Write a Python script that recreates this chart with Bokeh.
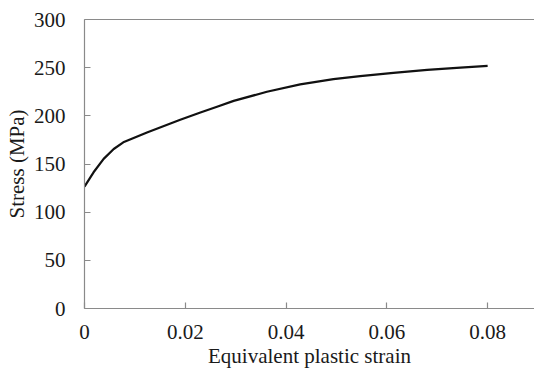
from bokeh.plotting import figure
from bokeh.models import LinearAxis, FixedTicker, Range1d
from bokeh.embed import file_html
from bokeh.resources import INLINE

strain = [0, 0.0018, 0.0038, 0.0058, 0.0077, 0.0124, 0.019, 0.023, 0.0263, 0.0296,
          0.0362, 0.0428, 0.0494, 0.0547, 0.0613, 0.068, 0.0746, 0.08]
stress = [126.6, 141.4, 155.3, 165.6, 172.5, 182.8, 196.0, 203.5, 209.5, 215.5,
          225.0, 232.6, 238.1, 241.3, 244.6, 247.7, 250.1, 251.9]

x_ticks = [0, 0.02, 0.04, 0.06, 0.08]
x_labels = {0: "0", 0.02: "0.02", 0.04: "0.04", 0.06: "0.06", 0.08: "0.08"}
y_ticks = [0, 50, 100, 150, 200, 250, 300]

FONT = "'Liberation Serif', 'Times New Roman', serif"
AXIS_COLOR = "#8a8a8a"
TEXT_COLOR = "#1a1a1a"

p = figure(width=534, height=373, output_backend="svg", toolbar_location=None,
           x_range=Range1d(0, 0.0893), y_range=Range1d(0, 300),
           min_border_left=84, min_border_right=0, min_border_top=19,
           min_border_bottom=65)
p.outline_line_color = None
p.grid.grid_line_color = None
p.background_fill_color = "white"
p.border_fill_color = "white"

p.line(strain, stress, line_color="#111111", line_width=2.2)

for ax in (p.xaxis[0], p.yaxis[0]):
    ax.axis_line_color = AXIS_COLOR
    ax.axis_line_width = 1.2
    ax.major_tick_line_color = AXIS_COLOR
    ax.major_tick_line_width = 1.2
    ax.major_tick_in = 6
    ax.major_tick_out = 0
    ax.minor_tick_line_color = None
    ax.major_label_text_font = FONT
    ax.major_label_text_font_size = "21px"
    ax.major_label_text_color = TEXT_COLOR
    ax.axis_label_text_font = FONT
    ax.axis_label_text_font_size = "21px"
    ax.axis_label_text_font_style = "normal"
    ax.axis_label_text_color = TEXT_COLOR

p.xaxis[0].ticker = FixedTicker(ticks=x_ticks)
p.xaxis[0].major_label_overrides = x_labels
p.xaxis[0].major_label_standoff = 16
p.xaxis[0].axis_label = "Equivalent plastic strain"
p.xaxis[0].axis_label_standoff = 2

p.yaxis[0].ticker = FixedTicker(ticks=y_ticks)
p.yaxis[0].major_label_standoff = 19
p.yaxis[0].axis_label = "Stress (MPa)"
p.yaxis[0].axis_label_standoff = 2

top = LinearAxis(ticker=FixedTicker(ticks=[]), axis_line_color=AXIS_COLOR,
                 axis_line_width=1.2, major_tick_line_color=None,
                 minor_tick_line_color=None, major_label_text_font_size="0px")
p.add_layout(top, "above")

open("out.html", "w").write(file_html(p, INLINE))
